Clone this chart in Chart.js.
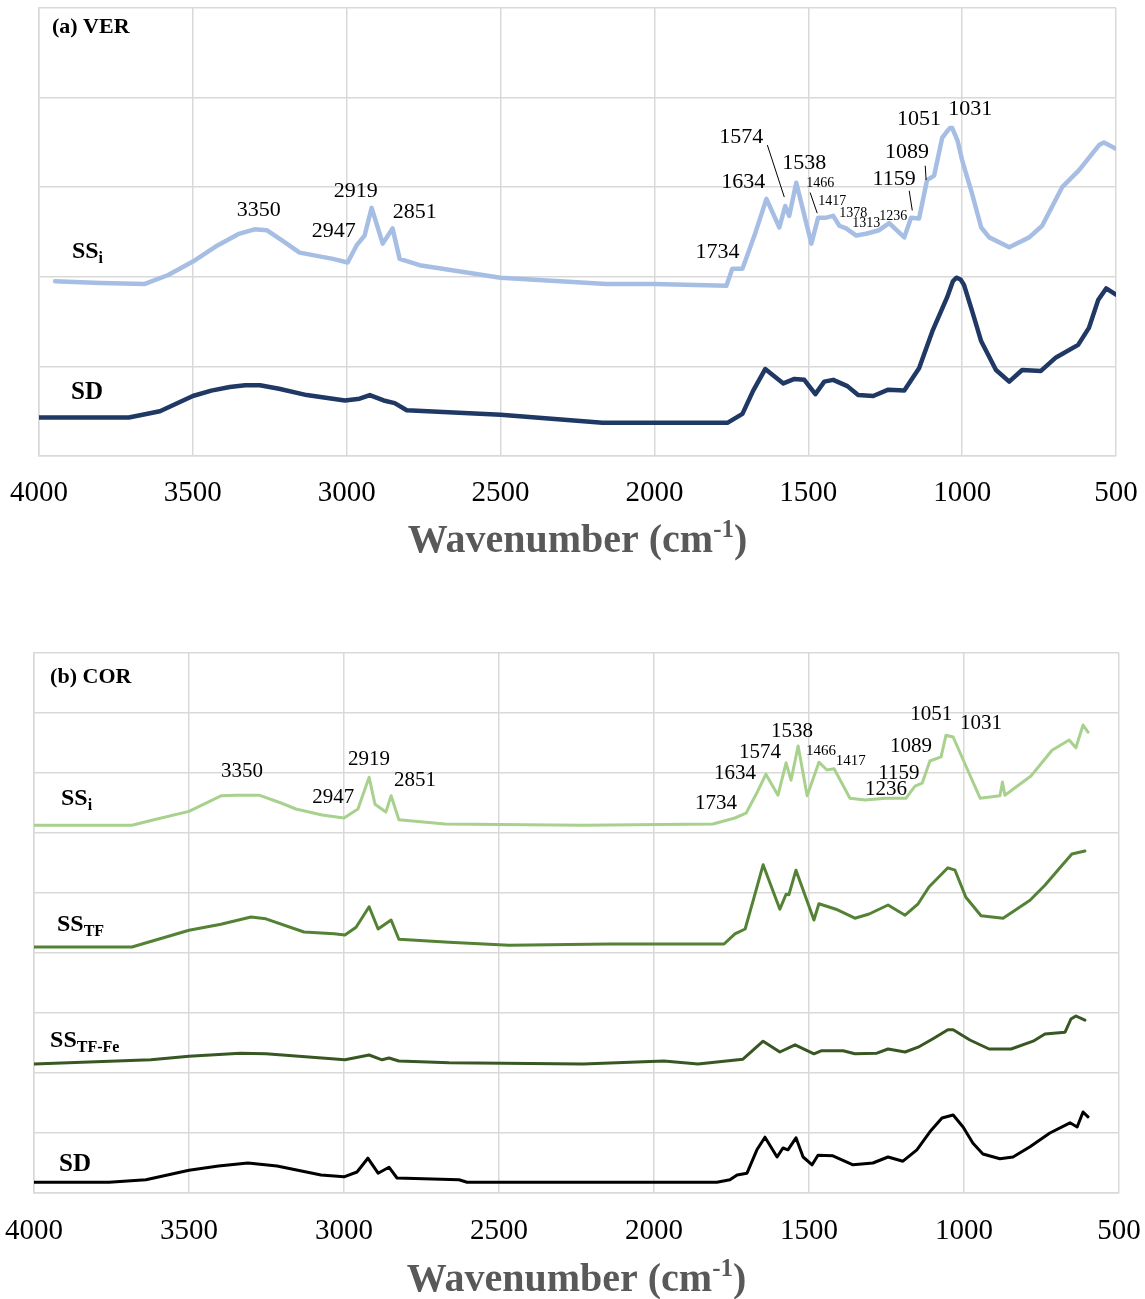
<!DOCTYPE html>
<html>
<head>
<meta charset="utf-8">
<script src="https://cdn.jsdelivr.net/npm/chart.js@4.4.0/dist/chart.umd.min.js"></script>
<style>
  html, body { margin: 0; padding: 0; background: #fff; }
  #wrap { position: relative; width: 1145px; height: 1299px; }
  canvas { position: absolute; left: 0; }
</style>
</head>
<body>
<div id="wrap">
  <canvas id="verChart" width="1145" height="600" style="top:0"></canvas>
  <canvas id="corChart" width="1145" height="699" style="top:600px"></canvas>
</div>
<script>
// x axis (wavenumber, cm-1)
var wnMin = 500;
var wnMax = 4000;
var wnStep = 500;

// (a) VER - SSi
var verSSiWn = [3948, 3800, 3656, 3580, 3500, 3420, 3350, 3300, 3260, 3208, 3153, 3045, 2997, 2968, 2942, 2919, 2883, 2851, 2828, 2763, 2500, 2156, 2000, 1766, 1747, 1714, 1675, 1636, 1594, 1575, 1562, 1539, 1490, 1468, 1442, 1419, 1399, 1377, 1344, 1312, 1270, 1237, 1188, 1166, 1140, 1114, 1091, 1065, 1052, 1040, 1032, 1015, 1000, 968, 938, 912, 847, 782, 740, 675, 620, 555, 539, 500];
var verSSiAbs = [1.95, 1.93, 1.92, 2.02, 2.17, 2.35, 2.48, 2.53, 2.52, 2.40, 2.27, 2.20, 2.16, 2.35, 2.46, 2.77, 2.37, 2.54, 2.20, 2.13, 1.99, 1.92, 1.92, 1.90, 2.09, 2.09, 2.46, 2.87, 2.55, 2.79, 2.68, 3.05, 2.37, 2.66, 2.66, 2.68, 2.57, 2.54, 2.46, 2.48, 2.52, 2.60, 2.44, 2.66, 2.65, 3.08, 3.13, 3.55, 3.61, 3.66, 3.66, 3.52, 3.30, 2.93, 2.55, 2.44, 2.33, 2.44, 2.57, 3.00, 3.19, 3.47, 3.50, 3.43];

// (a) VER - SD
var verSDWn = [4000, 3708, 3607, 3500, 3440, 3380, 3330, 3282, 3220, 3130, 3006, 2958, 2925, 2880, 2844, 2805, 2500, 2169, 2000, 1763, 1714, 1679, 1640, 1581, 1545, 1513, 1477, 1448, 1419, 1373, 1338, 1289, 1240, 1188, 1140, 1097, 1049, 1030, 1019, 1005, 994, 966, 938, 890, 847, 805, 744, 695, 623, 588, 558, 532, 500];
var verSDAbs = [0.43, 0.43, 0.50, 0.67, 0.73, 0.77, 0.79, 0.79, 0.75, 0.68, 0.62, 0.64, 0.68, 0.62, 0.59, 0.51, 0.46, 0.37, 0.37, 0.37, 0.47, 0.73, 0.97, 0.81, 0.86, 0.85, 0.69, 0.83, 0.85, 0.78, 0.68, 0.67, 0.74, 0.73, 0.98, 1.39, 1.77, 1.95, 1.99, 1.97, 1.91, 1.60, 1.28, 0.96, 0.83, 0.96, 0.95, 1.10, 1.24, 1.43, 1.74, 1.87, 1.80];

// (b) COR - SSi
var corSSiWn = [4000, 3684, 3613, 3500, 3397, 3348, 3274, 3203, 3155, 3071, 3000, 2955, 2919, 2900, 2865, 2848, 2823, 2674, 2229, 1810, 1739, 1703, 1668, 1639, 1600, 1574, 1558, 1535, 1506, 1468, 1442, 1419, 1368, 1319, 1252, 1187, 1158, 1135, 1110, 1074, 1058, 1035, 984, 948, 884, 876, 868, 784, 716, 661, 639, 616, 600];
var corSSiAbs = [6.13, 6.13, 6.22, 6.36, 6.62, 6.63, 6.63, 6.50, 6.40, 6.30, 6.25, 6.40, 6.93, 6.48, 6.35, 6.62, 6.22, 6.15, 6.13, 6.15, 6.25, 6.33, 6.67, 6.98, 6.63, 7.17, 6.88, 7.45, 6.62, 7.18, 7.05, 7.07, 6.58, 6.55, 6.58, 6.58, 6.78, 6.83, 7.20, 7.27, 7.63, 7.60, 7.00, 6.58, 6.62, 6.85, 6.63, 6.95, 7.38, 7.55, 7.42, 7.80, 7.68];

// (b) COR - SSTF
var corTFWn = [4000, 3684, 3500, 3397, 3300, 3252, 3129, 3032, 2997, 2961, 2919, 2890, 2848, 2823, 2661, 2468, 2145, 1774, 1739, 1706, 1677, 1648, 1594, 1574, 1565, 1542, 1484, 1468, 1413, 1352, 1306, 1245, 1190, 1148, 1113, 1052, 1029, 994, 945, 874, 787, 739, 694, 652, 610];
var corTFAbs = [4.10, 4.10, 4.38, 4.48, 4.60, 4.57, 4.35, 4.32, 4.30, 4.43, 4.77, 4.40, 4.55, 4.23, 4.18, 4.13, 4.15, 4.15, 4.32, 4.40, 4.93, 5.47, 4.73, 4.98, 4.97, 5.38, 4.55, 4.82, 4.73, 4.58, 4.65, 4.80, 4.63, 4.82, 5.10, 5.42, 5.38, 4.93, 4.62, 4.58, 4.88, 5.13, 5.40, 5.65, 5.70];

// (b) COR - SSTF-Fe
var corFeWn = [4000, 3623, 3500, 3335, 3252, 2997, 2919, 2877, 2855, 2823, 2661, 2229, 1968, 1858, 1713, 1648, 1594, 1545, 1484, 1461, 1390, 1352, 1281, 1245, 1190, 1148, 1100, 1052, 1035, 981, 919, 848, 777, 739, 674, 655, 639, 610];
var corFeAbs = [2.15, 2.22, 2.28, 2.33, 2.32, 2.22, 2.30, 2.22, 2.25, 2.20, 2.17, 2.15, 2.20, 2.15, 2.23, 2.53, 2.35, 2.47, 2.32, 2.37, 2.37, 2.32, 2.33, 2.40, 2.35, 2.43, 2.57, 2.72, 2.72, 2.55, 2.40, 2.40, 2.53, 2.65, 2.68, 2.90, 2.95, 2.88];

// (b) COR - SD
var corSDWn = [4000, 3758, 3639, 3500, 3405, 3310, 3216, 3074, 3000, 2958, 2923, 2890, 2855, 2829, 2629, 2603, 1797, 1755, 1732, 1700, 1668, 1642, 1603, 1584, 1568, 1542, 1519, 1490, 1471, 1423, 1358, 1294, 1245, 1197, 1152, 1110, 1071, 1035, 1003, 971, 939, 884, 842, 787, 723, 658, 635, 616, 600];
var corSDAbs = [0.18, 0.18, 0.22, 0.38, 0.45, 0.50, 0.45, 0.30, 0.27, 0.35, 0.58, 0.33, 0.43, 0.25, 0.22, 0.18, 0.18, 0.22, 0.30, 0.33, 0.72, 0.93, 0.60, 0.75, 0.72, 0.92, 0.60, 0.47, 0.63, 0.62, 0.47, 0.50, 0.60, 0.53, 0.72, 1.02, 1.25, 1.30, 1.10, 0.83, 0.65, 0.57, 0.60, 0.77, 1.00, 1.17, 1.10, 1.35, 1.27];

// peak labels
var verPeaks = ['3350', '2947', '2919', '2851', '1734', '1634', '1574', '1538', '1466', '1417', '1378', '1313', '1236', '1159', '1089', '1051', '1031'];
var corPeaks = ['3350', '2947', '2919', '2851', '1734', '1634', '1574', '1538', '1466', '1417', '1236', '1159', '1089', '1051', '1031'];

var serif = "'Times New Roman', 'Liberation Serif', serif";
var gridColor = '#d9d9d9';

// where each peak label sits (wavenumber, level, font size)
var verPeakSpots = [
  [3286, 2.74, 22], [3042, 2.51, 22], [2971, 2.96, 22], [2779, 2.72, 22], [1795, 2.27, 22],
  [1711, 3.06, 22], [1718, 3.56, 22], [1513, 3.27, 22], [1461, 3.04, 14], [1422, 2.84, 14],
  [1354, 2.71, 14], [1312, 2.60, 14], [1224, 2.67, 14], [1221, 3.09, 22], [1179, 3.39, 22],
  [1140, 3.76, 22], [974, 3.87, 22]
];
var verLeaders = [
  [1633, 3.47, 1578, 2.89], [1494, 2.94, 1471, 2.71], [1172, 2.96, 1162, 2.74], [1120, 3.24, 1117, 3.08]
];
var corPeakSpots = [
  [3329, 7.03, 21], [3035, 6.60, 21], [2919, 7.23, 21], [2771, 6.88, 21], [1800, 6.50, 21],
  [1739, 7.00, 21], [1658, 7.35, 21], [1555, 7.70, 21], [1461, 7.37, 15], [1365, 7.20, 15],
  [1252, 6.73, 21], [1210, 7.00, 21], [1171, 7.45, 21], [1106, 7.97, 21], [945, 7.83, 21]
];

function pts(wn, ab) {
  return wn.map(function (w, i) { return { x: w, y: ab[i] }; });
}

function line(data, color, width) {
  return {
    data: data,
    borderColor: color,
    borderWidth: width,
    pointRadius: 0,
    fill: false,
    tension: 0,
    borderJoinStyle: 'round',
    borderCapStyle: 'round'
  };
}

function drawSeriesLabel(ctx, main, sub, x, y, size) {
  ctx.save();
  ctx.fillStyle = '#000';
  ctx.textAlign = 'left';
  ctx.textBaseline = 'alphabetic';
  ctx.font = 'bold ' + size + 'px ' + serif;
  ctx.fillText(main, x, y);
  if (sub) {
    var w = ctx.measureText(main).width;
    ctx.font = 'bold ' + Math.round(size * 0.66) + 'px ' + serif;
    ctx.fillText(sub, x + w, y + size * 0.22);
  }
  ctx.restore();
}

var annotate = {
  id: 'annotate',
  afterDatasetsDraw: function (chart, args, opts) {
    var ctx = chart.ctx;
    var xs = chart.scales.x, ys = chart.scales.y;
    ctx.save();
    ctx.fillStyle = '#000';
    ctx.textAlign = 'center';
    ctx.textBaseline = 'middle';
    opts.peaks.forEach(function (t, i) {
      var s = opts.spots[i];
      ctx.font = s[2] + 'px ' + serif;
      ctx.fillText(t, xs.getPixelForValue(s[0]), ys.getPixelForValue(s[1]));
    });
    ctx.strokeStyle = '#000';
    ctx.lineWidth = 1;
    (opts.leaders || []).forEach(function (l) {
      ctx.beginPath();
      ctx.moveTo(xs.getPixelForValue(l[0]), ys.getPixelForValue(l[1]));
      ctx.lineTo(xs.getPixelForValue(l[2]), ys.getPixelForValue(l[3]));
      ctx.stroke();
    });
    ctx.restore();

    opts.series.forEach(function (s) {
      drawSeriesLabel(ctx, s[0], s[1], xs.getPixelForValue(s[2]), ys.getPixelForValue(s[3]), s[4]);
    });

    // axis title with superscript
    var a = chart.chartArea;
    var base = a.bottom + opts.titleOffset;
    var big = 'bold 40px ' + serif, small = 'bold 25px ' + serif;
    ctx.save();
    ctx.fillStyle = '#595959';
    ctx.textBaseline = 'alphabetic';
    ctx.textAlign = 'left';
    ctx.font = big;
    var w1 = ctx.measureText('Wavenumber (cm').width;
    var w3 = ctx.measureText(')').width;
    ctx.font = small;
    var w2 = ctx.measureText('-1').width;
    var x0 = (a.left + a.right) / 2 - (w1 + w2 + w3) / 2;
    ctx.font = big;
    ctx.fillText('Wavenumber (cm', x0, base);
    ctx.font = small;
    ctx.fillText('-1', x0 + w1, base - 15);
    ctx.font = big;
    ctx.fillText(')', x0 + w1 + w2, base);
    ctx.restore();
  }
};

function makeChart(id, datasets, yMax, pad, xHeight, tickPad, ann) {
  return new Chart(document.getElementById(id), {
    type: 'line',
    data: { datasets: datasets },
    options: {
      responsive: false,
      animation: false,
      events: [],
      layout: { padding: pad },
      scales: {
        x: {
          type: 'linear',
          reverse: true,
          min: wnMin,
          max: wnMax,
          ticks: {
            stepSize: wnStep,
            padding: tickPad,
            color: '#000',
            font: { family: serif, size: 29 },
            maxRotation: 0,
            callback: function (v) { return String(v); }
          },
          grid: { color: gridColor, lineWidth: 1.5, drawTicks: false },
          border: { color: gridColor, width: 1.5 },
          afterFit: function (s) {
            s.height = xHeight;
            s.paddingLeft = 0;
            s.paddingRight = 0;
          }
        },
        y: {
          min: 0,
          max: yMax,
          ticks: { display: false, stepSize: 1 },
          grid: { color: gridColor, lineWidth: 1.5, drawTicks: false },
          border: { color: gridColor, width: 1.5 },
          afterFit: function (s) { s.width = 0; }
        }
      },
      plugins: {
        legend: { display: false },
        tooltip: { enabled: false },
        annotate: ann
      }
    },
    plugins: [annotate]
  });
}

makeChart('verChart', [
  line(pts(verSSiWn, verSSiAbs), '#a7bee4', 4.5),
  line(pts(verSDWn, verSDAbs), '#1f3864', 4.5)
], 5, { left: 39, right: 29, top: 8, bottom: 0 }, 144, 20, {
  peaks: verPeaks,
  spots: verPeakSpots,
  leaders: verLeaders,
  series: [
    ['(a) VER', '', 3958, 4.72, 22],
    ['SS', 'i', 3893, 2.21, 24],
    ['SD', '', 3896, 0.64, 25]
  ],
  titleOffset: 96
});

makeChart('corChart', [
  line(pts(corSSiWn, corSSiAbs), '#a9d18e', 3),
  line(pts(corTFWn, corTFAbs), '#548235', 3),
  line(pts(corFeWn, corFeAbs), '#385723', 3),
  line(pts(corSDWn, corSDAbs), '#000000', 3)
], 9, { left: 34, right: 26, top: 53, bottom: 0 }, 106, 21, {
  peaks: corPeaks,
  spots: corPeakSpots,
  leaders: [],
  series: [
    ['(b) COR', '', 3948, 8.5, 22],
    ['SS', 'i', 3913, 6.47, 24],
    ['SS', 'TF', 3926, 4.37, 24],
    ['SS', 'TF-Fe', 3948, 2.43, 24],
    ['SD', '', 3919, 0.37, 25]
  ],
  titleOffset: 98
});
</script>
</body>
</html>
